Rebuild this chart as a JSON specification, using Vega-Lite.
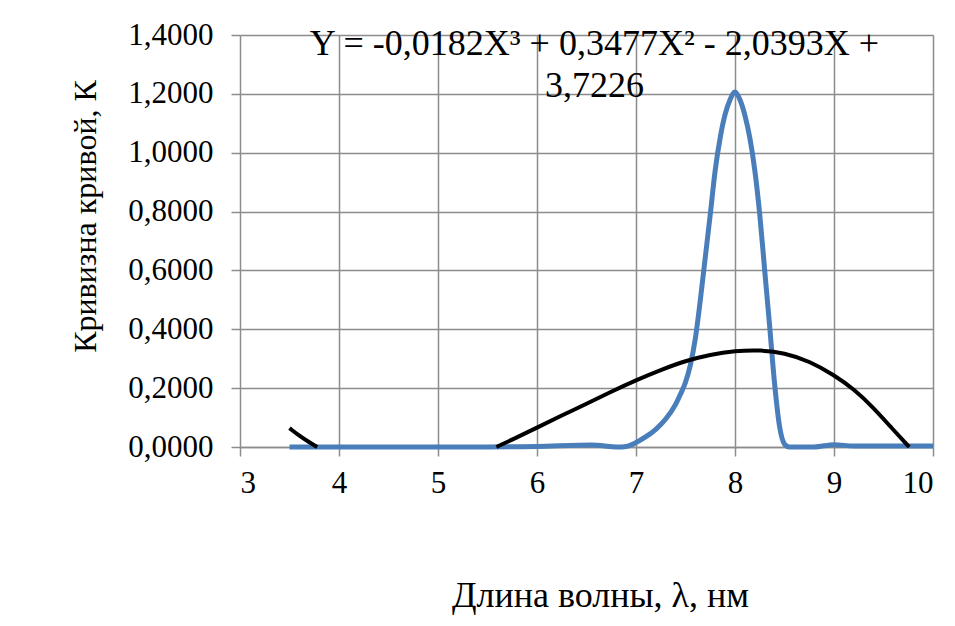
{
  "$schema": "https://vega.github.io/schema/vega-lite/v6.json",
  "width": 693,
  "height": 412,
  "autosize": "none",
  "padding": {"left": 240, "top": 35, "right": 22, "bottom": 179},
  "background": "white",
  "config": {
    "view": {"stroke": null},
    "font": "Liberation Serif",
    "axis": {"labelFont": "Liberation Serif", "titleFont": "Liberation Serif", "labelColor": "black", "titleColor": "black", "titleFontWeight": "normal", "gridColor": "#8c8c8c", "gridWidth": 1.5, "domainColor": "#8c8c8c", "domainWidth": 1.5, "tickColor": "#8c8c8c", "tickWidth": 1.5}
  },
  "datasets": {
    "blue": [
      {"x": 3.5, "y": 0}, {"x": 4, "y": 0}, {"x": 5, "y": 0}, {"x": 5.5, "y": 0},
      {"x": 6, "y": 0.002}, {"x": 6.55, "y": 0.007}, {"x": 6.82, "y": 0}, {"x": 6.9, "y": 0.002},
      {"x": 7.0, "y": 0.015}, {"x": 7.1, "y": 0.035}, {"x": 7.2, "y": 0.06}, {"x": 7.3, "y": 0.095}, {"x": 7.4, "y": 0.145},
      {"x": 7.45, "y": 0.18}, {"x": 7.5, "y": 0.22}, {"x": 7.55, "y": 0.28}, {"x": 7.6, "y": 0.37}, {"x": 7.65, "y": 0.5},
      {"x": 7.7, "y": 0.645}, {"x": 7.75, "y": 0.79}, {"x": 7.8, "y": 0.94}, {"x": 7.85, "y": 1.05},
      {"x": 7.9, "y": 1.13}, {"x": 7.95, "y": 1.18}, {"x": 8.0, "y": 1.206}, {"x": 8.05, "y": 1.18},
      {"x": 8.1, "y": 1.127}, {"x": 8.15, "y": 1.05}, {"x": 8.2, "y": 0.94}, {"x": 8.25, "y": 0.79},
      {"x": 8.3, "y": 0.6}, {"x": 8.35, "y": 0.41}, {"x": 8.4, "y": 0.215}, {"x": 8.45, "y": 0.07},
      {"x": 8.5, "y": 0.01}, {"x": 8.55, "y": 0}, {"x": 8.8, "y": 0}, {"x": 9.0, "y": 0.008},
      {"x": 9.2, "y": 0.003}, {"x": 10, "y": 0.003}
    ],
    "trend": [
      {"x": 3.5, "y": 0.064, "seg": "a"}, {"x": 3.6, "y": 0.038, "seg": "a"}, {"x": 3.7, "y": 0.016, "seg": "a"}, {"x": 3.78, "y": 0, "seg": "a"},
      {"x": 5.59, "y": 0, "seg": "b"}, {"x": 5.75, "y": 0.025, "seg": "b"}, {"x": 6.0, "y": 0.066, "seg": "b"},
      {"x": 6.25, "y": 0.107, "seg": "b"}, {"x": 6.5, "y": 0.147, "seg": "b"}, {"x": 6.75, "y": 0.188, "seg": "b"},
      {"x": 7.0, "y": 0.227, "seg": "b"}, {"x": 7.25, "y": 0.262, "seg": "b"}, {"x": 7.5, "y": 0.293, "seg": "b"},
      {"x": 7.75, "y": 0.314, "seg": "b"}, {"x": 8.0, "y": 0.327, "seg": "b"}, {"x": 8.25, "y": 0.33, "seg": "b"},
      {"x": 8.5, "y": 0.32, "seg": "b"}, {"x": 8.75, "y": 0.292, "seg": "b"}, {"x": 9.0, "y": 0.245, "seg": "b"},
      {"x": 9.2, "y": 0.197, "seg": "b"}, {"x": 9.4, "y": 0.133, "seg": "b"}, {"x": 9.57, "y": 0.069, "seg": "b"},
      {"x": 9.76, "y": 0, "seg": "b"}
    ],
    "eq": [
      {"x": 6.58, "y": 1.369, "label": "Y = -0,0182X³ + 0,3477X² - 2,0393X +"},
      {"x": 6.58, "y": 1.228, "label": "3,7226"}
    ]
  },
  "layer": [
    {
      "data": {"name": "blue"},
      "mark": {"type": "line", "color": "#4a7ebb", "strokeWidth": 5, "interpolate": "monotone"},
      "encoding": {
        "x": {"field": "x", "type": "quantitative", "scale": {"domain": [3, 10], "nice": false, "zero": false},
          "axis": {"values": [3, 4, 5, 6, 7, 8, 9, 10], "format": "d", "title": "Длина волны, λ, нм", "labelFontSize": 31, "titleFontSize": 36, "tickSize": 9, "labelPadding": 12, "titlePadding": 80, "titleX": 360, "domain": true}},
        "y": {"field": "y", "type": "quantitative", "scale": {"domain": [0, 1.4], "nice": false},
          "axis": {"values": [0, 0.2, 0.4, 0.6, 0.8, 1.0, 1.2, 1.4], "labelExpr": "replace(format(datum.value, '.4f'), '.', ',')", "title": "Кривизна кривой, К", "labelFontSize": 31, "titleFontSize": 32, "tickSize": 9, "labelPadding": 18, "domain": false, "titleX": -155, "titleY": 181, "titleAngle": -90, "titleBaseline": "middle", "titleAlign": "center"}}
      }
    },
    {
      "data": {"name": "trend"},
      "mark": {"type": "line", "color": "black", "strokeWidth": 4, "interpolate": "basis"},
      "encoding": {
        "x": {"field": "x", "type": "quantitative"},
        "y": {"field": "y", "type": "quantitative"},
        "detail": {"field": "seg", "type": "nominal"}
      }
    },
    {
      "data": {"name": "eq"},
      "mark": {"type": "text", "fontSize": 36, "font": "Liberation Serif", "color": "black", "align": "center", "baseline": "middle"},
      "encoding": {
        "x": {"field": "x", "type": "quantitative"},
        "y": {"field": "y", "type": "quantitative"},
        "text": {"field": "label", "type": "nominal"}
      }
    }
  ]
}
